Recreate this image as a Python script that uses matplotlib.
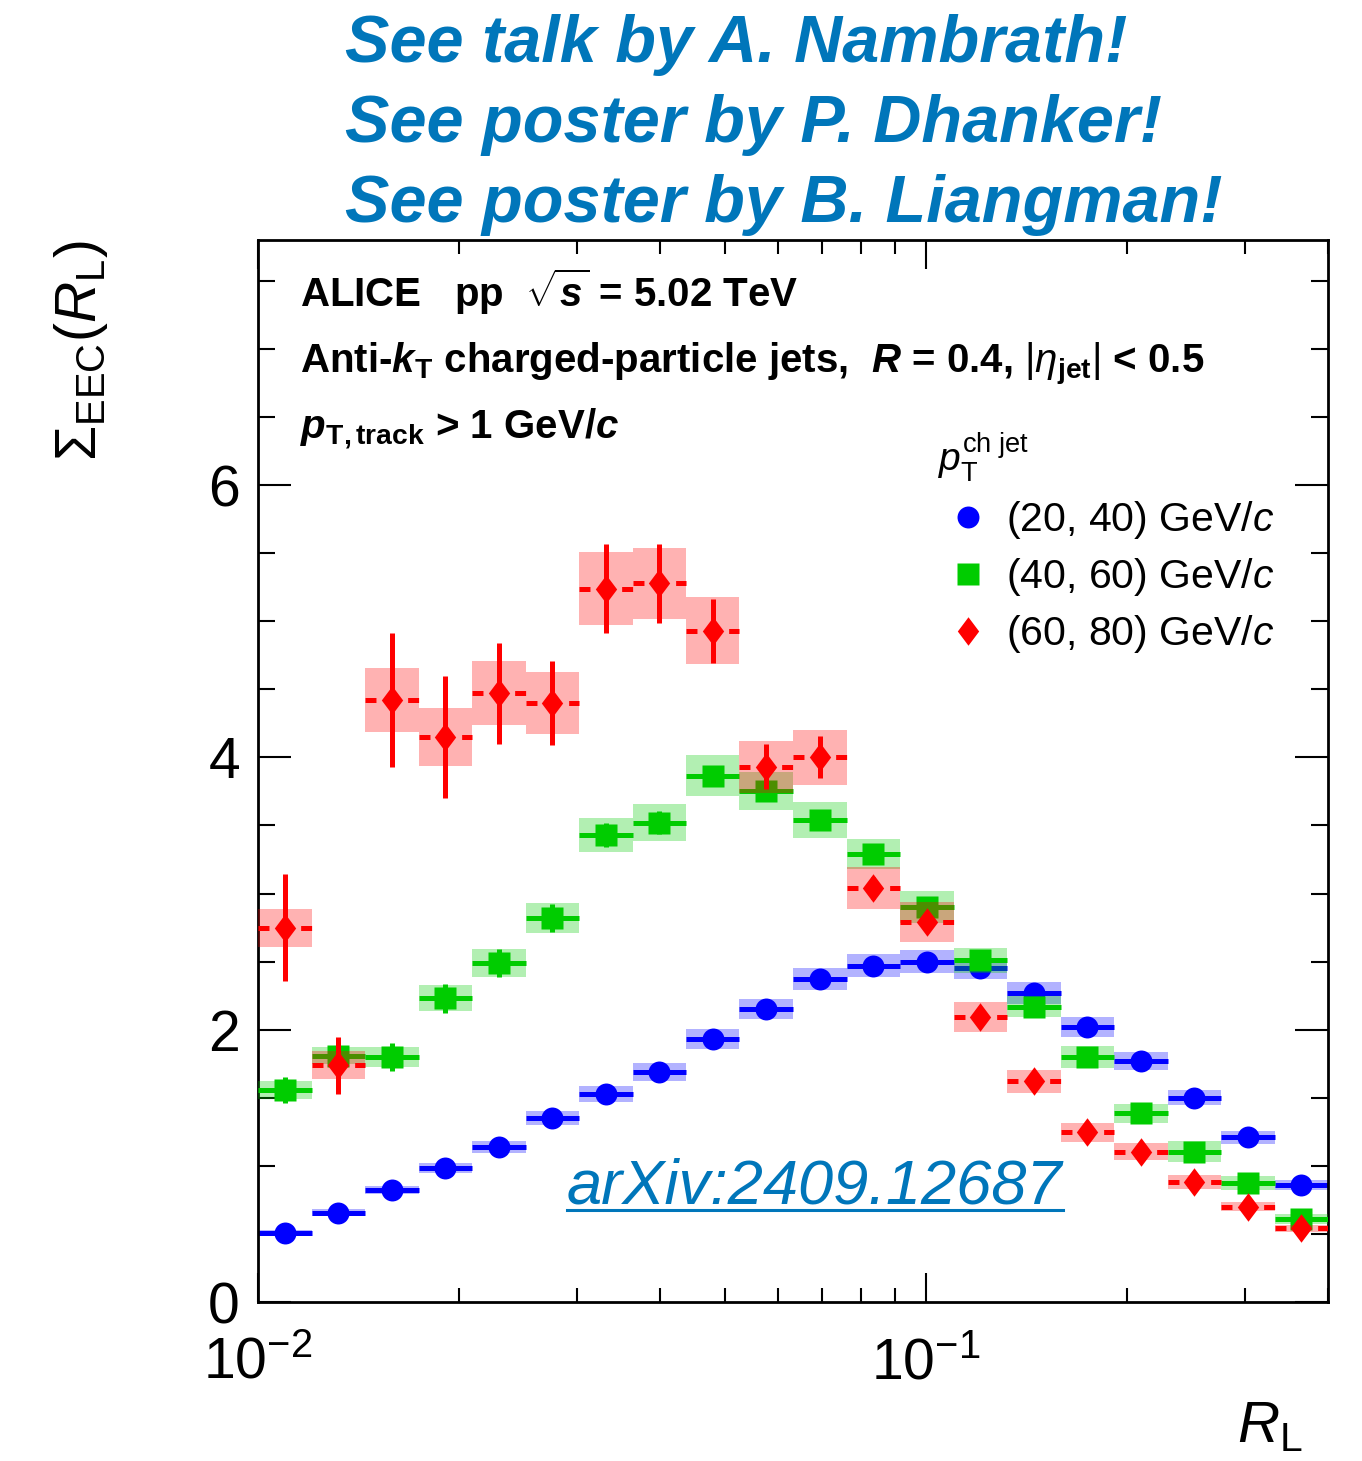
import numpy as np
import matplotlib
matplotlib.use("Agg")
import matplotlib.pyplot as plt
from matplotlib.lines import Line2D
from matplotlib.ticker import LogLocator, MultipleLocator, NullFormatter

plt.rcParams.update({
    "font.family": ["Liberation Sans", "DejaVu Sans"],
    "mathtext.fontset": "custom",
    "mathtext.rm": "Liberation Sans",
    "mathtext.it": "Liberation Sans:italic",
    "mathtext.bf": "Liberation Sans:bold",
    "mathtext.bfit": "Liberation Sans:bold:italic",
    "lines.scale_dashes": False,
})

# R_L binning: 20 log-spaced bins between 0.01 and 0.4
bin_edges = np.logspace(np.log10(0.01), np.log10(0.4), 21)

# Sigma_EEC(R_L) per jet-pT interval: value, statistical and systematic uncertainty
val_20_40 = [0.51, 0.655, 0.82, 0.985, 1.14, 1.35, 1.53, 1.69, 1.93, 2.15,
             2.37, 2.47, 2.50, 2.45, 2.27, 2.02, 1.77, 1.50, 1.21, 0.86]
stat_20_40 = [0.02, 0.02, 0.02, 0.02, 0.02, 0.02, 0.02, 0.025, 0.025, 0.025,
              0.025, 0.025, 0.025, 0.025, 0.025, 0.025, 0.02, 0.02, 0.02, 0.02]
sys_20_40 = [0.02, 0.025, 0.03, 0.035, 0.045, 0.05, 0.06, 0.065, 0.075, 0.075,
             0.08, 0.085, 0.083, 0.075, 0.08, 0.07, 0.065, 0.055, 0.047, 0.035]

val_40_60 = [1.555, 1.81, 1.80, 2.23, 2.49, 2.82, 3.43, 3.52, 3.865, 3.75,
             3.54, 3.29, 2.90, 2.51, 2.17, 1.80, 1.385, 1.105, 0.875, 0.61]
stat_40_60 = [0.095, 0.09, 0.10, 0.105, 0.105, 0.10, 0.09, 0.085, 0.07, 0.065,
              0.06, 0.055, 0.05, 0.045, 0.04, 0.035, 0.03, 0.03, 0.025, 0.02]
sys_40_60 = [0.065, 0.065, 0.075, 0.095, 0.10, 0.11, 0.125, 0.135, 0.15, 0.14,
             0.13, 0.11, 0.115, 0.09, 0.08, 0.08, 0.07, 0.077, 0.05, 0.04]

val_60_80 = [2.75, 1.74, 4.42, 4.15, 4.47, 4.40, 5.24, 5.28, 4.93, 3.93,
             4.00, 3.04, 2.79, 2.09, 1.62, 1.245, 1.105, 0.88, 0.70, 0.54]
stat_60_80 = [0.39, 0.21, 0.49, 0.45, 0.37, 0.31, 0.33, 0.29, 0.235, 0.165,
              0.155, 0.08, 0.07, 0.06, 0.05, 0.045, 0.04, 0.035, 0.03, 0.03]
sys_60_80 = [0.14, 0.10, 0.235, 0.215, 0.235, 0.225, 0.27, 0.26, 0.245, 0.19,
             0.20, 0.155, 0.145, 0.11, 0.085, 0.067, 0.06, 0.05, 0.035, 0.027]

series_labels = ["(20, 40) GeV/$c$", "(40, 60) GeV/$c$", "(60, 80) GeV/$c$"]

W, H = 1362, 1461
fig = plt.figure(figsize=(W / 100, H / 100), dpi=100)
ax = fig.add_axes([258 / W, 1 - 1302 / H, 1070 / W, 1062 / H])

lo = bin_edges[:-1]
hi = bin_edges[1:]
xc = np.sqrt(lo * hi)

diamond = [(0, 1), (0.75, 0), (0, -1), (-0.75, 0), (0, 1)]
styles = [
    dict(color="#0000ff", marker="o", ms=15.8, ls="solid"),
    dict(color="#00cc00", marker="s", ms=15.5, ls="solid"),
    dict(color="#ff0000", marker=diamond, ms=20.5, ls=(0, (7.9, 22.8))),
]
datasets = [
    (val_20_40, stat_20_40, sys_20_40),
    (val_40_60, stat_40_60, sys_40_60),
    (val_60_80, stat_60_80, sys_60_80),
]

handles = []
for k, ((v, st, sy), s) in enumerate(zip(datasets, styles)):
    v = np.asarray(v)
    st = np.asarray(st)
    sy = np.asarray(sy)
    z = 2 + k
    ax.bar(lo, 2 * sy, width=hi - lo, bottom=v - sy, align="edge",
           color=s["color"], alpha=0.3, linewidth=0, zorder=z)
    ax.hlines(v, lo, hi, colors=s["color"], linewidth=3.6,
              linestyles=[s["ls"]], zorder=z + 0.1)
    ax.vlines(xc, v - st, v + st, colors=s["color"], linewidth=3.6,
              zorder=z + 0.2)
    mk, = ax.plot(xc, v, ls="none", marker=s["marker"], ms=s["ms"],
                  color=s["color"], mec="none", zorder=z + 0.3)
    handles.append(mk)

ax.set_xscale("log")
ax.set_xlim(0.01, 0.4)
ax.set_ylim(0, 7.8)
ax.xaxis.set_major_locator(LogLocator(base=10))
ax.xaxis.set_minor_locator(LogLocator(base=10, subs=np.arange(2, 10)))
ax.xaxis.set_minor_formatter(NullFormatter())
ax.yaxis.set_major_locator(MultipleLocator(2))
ax.yaxis.set_minor_locator(MultipleLocator(0.5))

for sp in ax.spines.values():
    sp.set_linewidth(2.0)
ax.tick_params(which="both", direction="in", top=True, right=True, width=1.5,
               labelsize=41)
ax.tick_params(axis="x", which="major", length=21, pad=25)
ax.tick_params(axis="x", which="minor", length=10)
ax.tick_params(axis="y", which="major", length=24, pad=13)
ax.tick_params(axis="y", which="minor", length=12)

ax.set_xlabel(r"$R_{\mathrm{L}}$", fontsize=42, loc="right")
ax.xaxis.set_label_coords((1303 - 258) / 1070, -(1400 - 1302) / 1062)
ax.set_ylabel(r"$\mathit{\Sigma}_{\mathrm{EEC}}(R_{\mathrm{L}})$", fontsize=41,
              loc="top")
ax.yaxis.label.set_va("baseline")
ax.yaxis.set_label_coords(-(258 - 96) / 1070, 1.0)

# Experiment / selection description
info = [
    (307, r"ALICE   pp  $\sqrt{\mathbfit{s}}$ = 5.02 TeV"),
    (373, r"Anti-$\mathbfit{k}_{\mathbf{T}}$ charged-particle jets,  "
          r"$\mathbfit{R}$ = 0.4, $|\eta_{\mathbf{jet}}|$ < 0.5"),
    (438, r"$\mathbfit{p}_{\mathbf{T,track}}$ > 1 GeV/$\mathbfit{c}$"),
]
for yb, txt in info:
    fig.text(300 / W, 1 - yb / H, txt, fontsize=29, fontweight="bold",
             ha="left", va="baseline")

# Cross-references above the frame
blue_txt = "#0076ba"
for yb, txt in [(62, "See talk by A. Nambrath!"),
                (142, "See poster by P. Dhanker!"),
                (222, "See poster by B. Liangman!")]:
    fig.text(345 / W, 1 - yb / H, txt, fontsize=48, fontweight="bold",
             fontstyle="italic", color=blue_txt, ha="left", va="baseline")

leg = ax.legend(handles, series_labels, title=r"$p_{\mathrm{T}}^{\mathrm{ch\ jet}}$",
                loc="upper left", bbox_to_anchor=(938 / W, 1 - 430 / H),
                bbox_transform=fig.transFigure, frameon=False, fontsize=29.5,
                title_fontsize=28, alignment="left", borderpad=0,
                borderaxespad=0, handlelength=1.45, handletextpad=0.2,
                labelspacing=0.37)

arx = fig.text(567 / W, 1 - 1203 / H, "arXiv:2409.12687", fontsize=45.5,
               fontstyle="italic", color=blue_txt, ha="left", va="baseline")
fig.canvas.draw()
bb = arx.get_window_extent()
yu = 1 - 1210 / H
fig.add_artist(Line2D([bb.x0 / W, bb.x1 / W], [yu, yu], transform=fig.transFigure,
                      color=blue_txt, linewidth=2.2))

fig.savefig("out.png", dpi=100)
